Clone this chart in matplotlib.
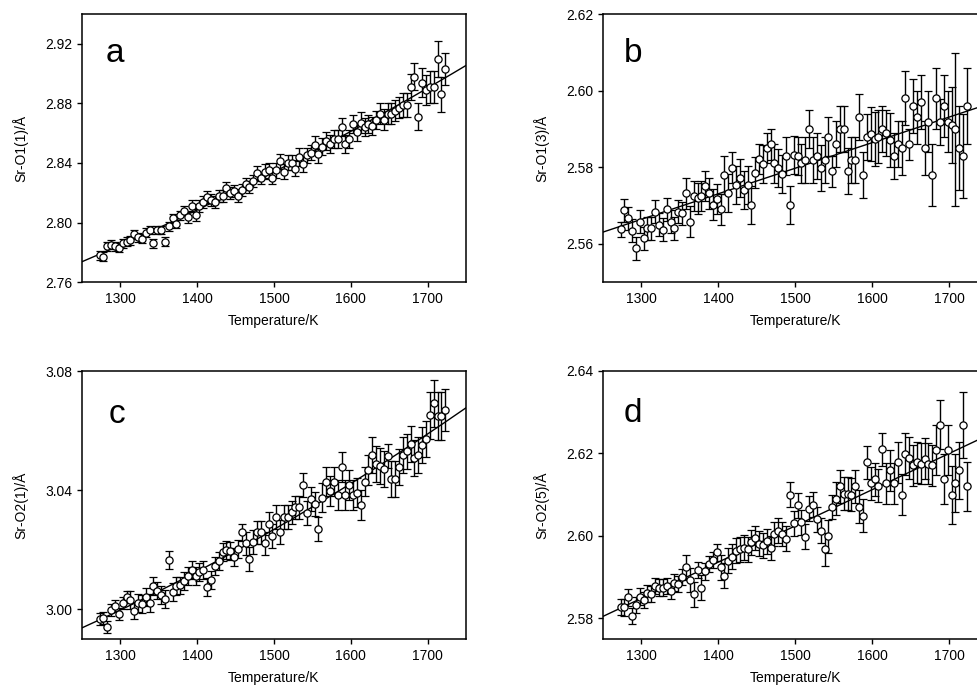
import numpy as np
import matplotlib
matplotlib.use("Agg")
import matplotlib.pyplot as plt

plt.rcParams['font.family'] = ['Liberation Sans', 'DejaVu Sans']

# temperatures (K), shared by all four panels
temps = [1273, 1278, 1283, 1288, 1293, 1298, 1303, 1308, 1313, 1318,
         1323, 1328, 1333, 1338, 1343, 1348, 1353, 1358, 1363, 1368,
         1373, 1378, 1383, 1388, 1393, 1398, 1403, 1408, 1413, 1418,
         1423, 1428, 1433, 1438, 1443, 1448, 1453, 1458, 1463, 1468,
         1473, 1478, 1483, 1488, 1493, 1498, 1503, 1508, 1513, 1518,
         1523, 1528, 1533, 1538, 1543, 1548, 1553, 1558, 1563, 1568,
         1573, 1578, 1583, 1588, 1593, 1598, 1603, 1608, 1613, 1618,
         1623, 1628, 1633, 1638, 1643, 1648, 1653, 1658, 1663, 1668,
         1673, 1678, 1683, 1688, 1693, 1698, 1703, 1708, 1713, 1718, 1723]

# panel a: Sr-O1(1)
sr_o1_1 = [2.778, 2.777, 2.784, 2.785, 2.784, 2.783, 2.786, 2.787, 2.788, 2.792,
           2.790, 2.789, 2.793, 2.795, 2.786, 2.795, 2.795, 2.787, 2.7975, 2.803,
           2.799, 2.805, 2.808, 2.804, 2.811, 2.805, 2.811, 2.814, 2.817, 2.815,
           2.814, 2.818, 2.818, 2.823, 2.820, 2.821, 2.818, 2.822, 2.826, 2.824,
           2.828, 2.833, 2.830, 2.834, 2.835, 2.830, 2.835, 2.841, 2.834, 2.840,
           2.840, 2.836, 2.844, 2.839, 2.845, 2.847, 2.852, 2.846, 2.851, 2.855,
           2.853, 2.856, 2.856, 2.864, 2.853, 2.856, 2.866, 2.861, 2.867, 2.864,
           2.866, 2.865, 2.869, 2.873, 2.869, 2.873, 2.873, 2.875, 2.877, 2.879,
           2.879, 2.891, 2.898, 2.871, 2.894, 2.889, 2.891, 2.891, 2.910, 2.886, 2.903]
err_o1_1 = [0.003, 0.003, 0.003, 0.003, 0.003, 0.003, 0.003, 0.003, 0.003, 0.003,
            0.003, 0.003, 0.003, 0.003, 0.003, 0.003, 0.003, 0.003, 0.003, 0.003,
            0.003, 0.003, 0.003, 0.004, 0.004, 0.004, 0.004, 0.004, 0.004, 0.004,
            0.004, 0.004, 0.004, 0.004, 0.004, 0.004, 0.004, 0.004, 0.004, 0.004,
            0.004, 0.005, 0.004, 0.005, 0.005, 0.004, 0.005, 0.005, 0.005, 0.005,
            0.005, 0.005, 0.006, 0.005, 0.005, 0.005, 0.006, 0.006, 0.006, 0.006,
            0.006, 0.006, 0.006, 0.006, 0.006, 0.006, 0.006, 0.006, 0.007, 0.006,
            0.006, 0.006, 0.006, 0.007, 0.007, 0.007, 0.007, 0.007, 0.007, 0.008,
            0.008, 0.009, 0.009, 0.009, 0.010, 0.010, 0.011, 0.011, 0.012, 0.012, 0.011]

# panel b: Sr-O1(3)
sr_o1_3 = [2.5638, 2.5687, 2.5667, 2.5634, 2.5589, 2.5658, 2.5615, 2.5641, 2.5640, 2.5684,
           2.5650, 2.5637, 2.5690, 2.5658, 2.5640, 2.5684, 2.5680, 2.5732, 2.5658, 2.5725,
           2.5719, 2.5725, 2.5751, 2.5732, 2.5702, 2.5717, 2.5690, 2.5780, 2.5732, 2.5799,
           2.5754, 2.5771, 2.5741, 2.5754, 2.5702, 2.5786, 2.5821, 2.5809, 2.5850, 2.5860,
           2.5810, 2.5797, 2.5783, 2.5830, 2.5702, 2.5832, 2.5830, 2.5810, 2.5819, 2.5899,
           2.5819, 2.5828, 2.5799, 2.5819, 2.5880, 2.5789, 2.5860, 2.5899, 2.5899, 2.5790,
           2.5819, 2.5819, 2.5930, 2.5780, 2.5880, 2.5886, 2.5873, 2.5880, 2.5899, 2.5890,
           2.5871, 2.5830, 2.5861, 2.5850, 2.5980, 2.5860, 2.5960, 2.5930, 2.5971, 2.5850,
           2.5919, 2.5780, 2.5980, 2.5919, 2.5960, 2.5919, 2.5910, 2.5899, 2.5850, 2.5830, 2.5960]
err_o1_3 = [0.002, 0.003, 0.003, 0.003, 0.003, 0.003, 0.003, 0.003, 0.003, 0.003,
            0.003, 0.003, 0.003, 0.003, 0.003, 0.003, 0.003, 0.004, 0.004, 0.004,
            0.004, 0.004, 0.004, 0.004, 0.004, 0.004, 0.004, 0.005, 0.005, 0.004,
            0.005, 0.005, 0.005, 0.005, 0.005, 0.004, 0.004, 0.005, 0.004, 0.004,
            0.005, 0.005, 0.005, 0.005, 0.005, 0.005, 0.005, 0.005, 0.006, 0.005,
            0.006, 0.006, 0.006, 0.006, 0.005, 0.004, 0.006, 0.006, 0.006, 0.006,
            0.006, 0.006, 0.006, 0.006, 0.006, 0.007, 0.007, 0.007, 0.006, 0.006,
            0.007, 0.006, 0.006, 0.007, 0.007, 0.004, 0.007, 0.007, 0.007, 0.007,
            0.008, 0.008, 0.008, 0.006, 0.008, 0.008, 0.010, 0.020, 0.011, 0.011, 0.010]

# panel c: Sr-O2(1)
sr_o2_1 = [2.9966, 2.9971, 2.9940, 2.9998, 3.0011, 2.9984, 3.0020, 3.0040, 3.0031, 2.9996,
           3.0022, 3.0018, 3.0040, 3.0022, 3.0079, 3.0063, 3.0049, 3.0035, 3.0165, 3.0057,
           3.0079, 3.0080, 3.0096, 3.0113, 3.0132, 3.0113, 3.0124, 3.0132, 3.0074, 3.0098,
           3.0146, 3.0163, 3.0191, 3.0199, 3.0197, 3.0177, 3.0202, 3.0258, 3.0221, 3.0169,
           3.0225, 3.0258, 3.0258, 3.0221, 3.0288, 3.0247, 3.0311, 3.0260, 3.0311, 3.0311,
           3.0325, 3.0342, 3.0342, 3.0418, 3.0322, 3.0370, 3.0353, 3.0269, 3.0375, 3.0429,
           3.0398, 3.0429, 3.0384, 3.0478, 3.0384, 3.0418, 3.0384, 3.0392, 3.0351, 3.0429,
           3.0467, 3.0518, 3.0489, 3.0482, 3.0470, 3.0514, 3.0437, 3.0437, 3.0478, 3.0518,
           3.0530, 3.0556, 3.0509, 3.0518, 3.0552, 3.0571, 3.0651, 3.0691, 3.0649, 3.0649, 3.0669]
err_o2_1 = [0.002, 0.002, 0.002, 0.002, 0.002, 0.002, 0.002, 0.002, 0.003, 0.003,
            0.003, 0.003, 0.003, 0.003, 0.003, 0.003, 0.003, 0.003, 0.003, 0.003,
            0.003, 0.003, 0.003, 0.003, 0.003, 0.003, 0.003, 0.003, 0.003, 0.003,
            0.003, 0.003, 0.003, 0.003, 0.003, 0.003, 0.003, 0.003, 0.004, 0.004,
            0.004, 0.004, 0.004, 0.004, 0.004, 0.004, 0.004, 0.004, 0.004, 0.004,
            0.004, 0.004, 0.004, 0.004, 0.004, 0.004, 0.004, 0.004, 0.005, 0.005,
            0.005, 0.005, 0.005, 0.005, 0.005, 0.005, 0.005, 0.005, 0.005, 0.005,
            0.005, 0.006, 0.006, 0.006, 0.006, 0.004, 0.006, 0.006, 0.006, 0.006,
            0.006, 0.006, 0.006, 0.006, 0.006, 0.006, 0.008, 0.008, 0.008, 0.008, 0.007]

# panel d: Sr-O2(5)
sr_o2_5 = [2.5828, 2.5827, 2.5851, 2.5806, 2.5833, 2.5853, 2.5845, 2.5861, 2.5859, 2.5879,
           2.5875, 2.5875, 2.5879, 2.5867, 2.5887, 2.5883, 2.5900, 2.5924, 2.5893, 2.5859,
           2.5917, 2.5875, 2.5914, 2.5932, 2.5942, 2.5960, 2.5924, 2.5904, 2.5940, 2.5950,
           2.5964, 2.5968, 2.5972, 2.5968, 2.5985, 2.5995, 2.5981, 2.5977, 2.5987, 2.5971,
           2.6005, 2.6013, 2.6005, 2.5993, 2.6100, 2.6031, 2.6074, 2.6033, 2.5998, 2.6066,
           2.6076, 2.6040, 2.6013, 2.5968, 2.5999, 2.6070, 2.6090, 2.6120, 2.6102, 2.6102,
           2.6100, 2.6120, 2.6071, 2.6049, 2.6179, 2.6128, 2.6138, 2.6122, 2.6210, 2.6128,
           2.6159, 2.6128, 2.6179, 2.6100, 2.6199, 2.6189, 2.6171, 2.6179, 2.6175, 2.6187,
           2.6175, 2.6171, 2.6209, 2.6270, 2.6138, 2.6209, 2.6100, 2.6128, 2.6159, 2.6270, 2.6120]
err_o2_5 = [0.002, 0.002, 0.002, 0.002, 0.002, 0.002, 0.002, 0.002, 0.002, 0.002,
            0.002, 0.002, 0.002, 0.002, 0.002, 0.002, 0.002, 0.003, 0.003, 0.003,
            0.002, 0.003, 0.002, 0.002, 0.002, 0.002, 0.003, 0.003, 0.003, 0.003,
            0.003, 0.003, 0.003, 0.003, 0.003, 0.003, 0.003, 0.003, 0.003, 0.003,
            0.003, 0.003, 0.003, 0.003, 0.003, 0.003, 0.003, 0.003, 0.003, 0.003,
            0.003, 0.003, 0.003, 0.004, 0.004, 0.003, 0.004, 0.004, 0.004, 0.004,
            0.004, 0.004, 0.004, 0.004, 0.004, 0.004, 0.004, 0.004, 0.004, 0.005,
            0.005, 0.005, 0.005, 0.005, 0.005, 0.005, 0.005, 0.005, 0.005, 0.005,
            0.005, 0.005, 0.006, 0.006, 0.006, 0.006, 0.007, 0.007, 0.007, 0.008, 0.006]

panels = [
    # letter, ylabel, values, errors, ylim, yticks, fit degree, axes rect, letter pos
    ("a", "Sr-O1(1)/Å", sr_o1_1, err_o1_1, (2.76, 2.94), [2.76, 2.80, 2.84, 2.88, 2.92], 2,
     [0.0839, 0.597, 0.393, 0.383], (0.086, 0.854)),
    ("b", "Sr-O1(3)/Å", sr_o1_3, err_o1_3, (2.55, 2.62), [2.56, 2.58, 2.60, 2.62], 1,
     [0.617, 0.597, 0.394, 0.383], (0.078, 0.854)),
    ("c", "Sr-O2(1)/Å", sr_o2_1, err_o2_1, (2.99, 3.08), [3.00, 3.04, 3.08], 2,
     [0.0839, 0.087, 0.393, 0.383], (0.09, 0.836)),
    ("d", "Sr-O2(5)/Å", sr_o2_5, err_o2_5, (2.575, 2.64), [2.58, 2.60, 2.62, 2.64], 1,
     [0.617, 0.087, 0.394, 0.383], (0.078, 0.843)),
]

fig = plt.figure(figsize=(9.77, 7.0), dpi=100)
t = np.array(temps)

for letter, ylab, vals, errs, ylim, yticks, deg, rect, lpos in panels:
    ax = fig.add_axes(rect)
    v = np.array(vals)
    coef = np.polyfit(t, v, deg)
    tt = np.linspace(1250, 1750, 200)
    ax.plot(tt, np.polyval(coef, tt), color="black", lw=1.0, zorder=2)
    ax.errorbar(t, v, yerr=errs, fmt="o", ms=5.2, mfc="white", mec="black",
                mew=0.9, ecolor="black", elinewidth=1.0, capsize=3.2, capthick=1.0, zorder=3)
    ax.set_xlim(1250, 1750)
    ax.set_ylim(*ylim)
    ax.set_xticks([1300, 1400, 1500, 1600, 1700])
    ax.set_yticks(yticks)
    ax.set_yticklabels([f"{y:.2f}" for y in yticks])
    ax.tick_params(direction="out", length=3.5, width=1.0, labelsize=10)
    for s in ax.spines.values():
        s.set_linewidth(1.1)
    ax.set_xlabel("Temperature/K", fontsize=10, labelpad=6)
    ax.set_ylabel(ylab, fontsize=10, labelpad=12)
    ax.text(lpos[0], lpos[1], letter, transform=ax.transAxes, fontsize=24,
            ha="center", va="center")

fig.savefig("out.png", dpi=100)
